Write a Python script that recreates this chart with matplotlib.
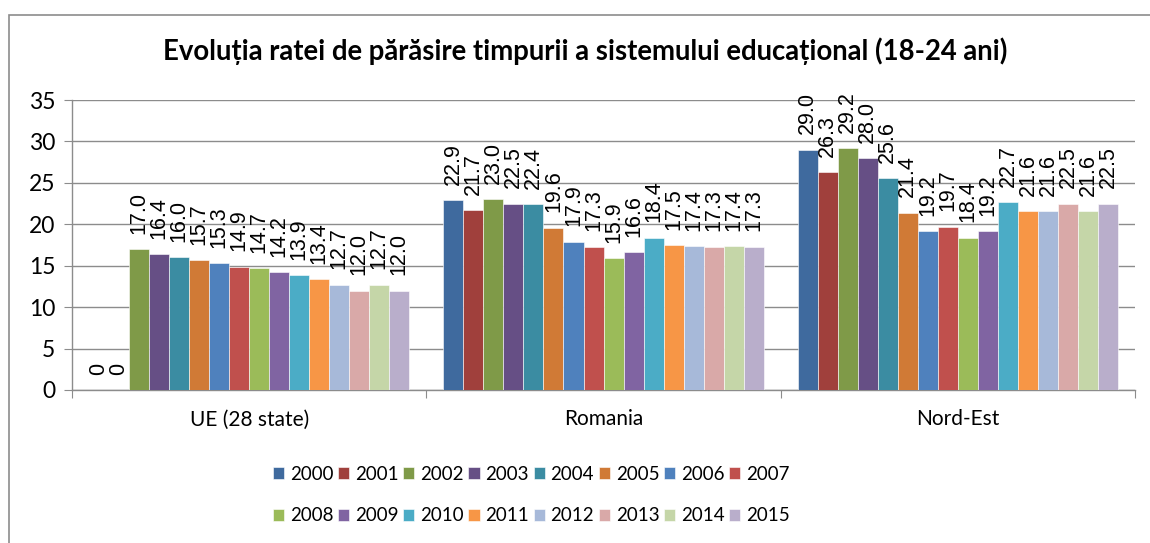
import matplotlib

matplotlib.use("Agg")
import matplotlib.pyplot as plt
import numpy as np
from matplotlib.patches import Rectangle

groups = ["UE (28 state)", "Romania", "Nord-Est"]
years = [str(y) for y in range(2000, 2016)]

ue_values = [0, 0, 17.0, 16.4, 16.0, 15.7, 15.3, 14.9, 14.7, 14.2, 13.9, 13.4, 12.7, 12.0, 12.7, 12.0]
ro_values = [22.9, 21.7, 23.0, 22.5, 22.4, 19.6, 17.9, 17.3, 15.9, 16.6, 18.4, 17.5, 17.4, 17.3, 17.4, 17.3]
ne_values = [29.0, 26.3, 29.2, 28.0, 25.6, 21.4, 19.2, 19.7, 18.4, 19.2, 22.7, 21.6, 21.6, 22.5, 21.6, 22.5]

COLORS = [
    "#3F6A9E", "#A0403C", "#7F9A48", "#664F85", "#3B8CA2", "#D07A36", "#4F81BD", "#C0504D",
    "#9BBB59", "#8064A2", "#4BACC6", "#F79646", "#A7B9D9", "#D9A9A8", "#C5D6A8", "#B9AECB",
]

FONT = "Lato"
LABEL_FONT = "Liberation Sans"

data = np.array([ue_values, ro_values, ne_values])
n_years = len(years)
width = 1.0 / (n_years + 1.7)
x = np.arange(len(groups))

fig = plt.figure(figsize=(11.5, 5.43), dpi=100)
ax = fig.add_axes([0.0626, 0.2818, 0.9244, 0.534])

handles = []
for i, year in enumerate(years):
    pos = x + (i - (n_years - 1) / 2) * width
    vals = data[:, i]
    h = ax.bar(pos, vals, width, color=COLORS[i], edgecolor="white", linewidth=0.4, label=year, zorder=3)
    handles.append(h)
    for xp, v in zip(pos, vals):
        txt = "0" if v == 0 else f"{v:.1f}"
        ax.annotate(txt, (xp, v), xytext=(0, 11), textcoords="offset points", rotation=90,
                    ha="center", va="bottom", fontsize=15.5, family=LABEL_FONT, zorder=4,
                    annotation_clip=False)

ax.set_xlim(-0.5, 2.5)
ax.set_ylim(0, 35)
ax.set_yticks(np.arange(0, 36, 5))
ax.yaxis.grid(True, color="#8c8c8c", linewidth=1.0, zorder=0)
ax.set_axisbelow(True)
ax.set_xticks([-0.5, 0.5, 1.5, 2.5])
ax.set_xticklabels([])
ax.set_xticks(x, minor=True)
ax.set_xticklabels(groups, minor=True, fontsize=15, family=FONT)
ax.tick_params(axis="x", which="major", length=6, color="#8c8c8c", direction="out")
ax.tick_params(axis="x", which="minor", length=0, pad=14)
ax.tick_params(axis="y", length=6, color="#8c8c8c", labelsize=16.5, pad=6)
for lbl in ax.get_yticklabels():
    lbl.set_family(FONT)
for side in ["top", "right"]:
    ax.spines[side].set_visible(False)
for side in ["left", "bottom"]:
    ax.spines[side].set_color("#8c8c8c")
    ax.spines[side].set_linewidth(1.0)

fig.text(0.509, 0.905, "Evoluția ratei de părăsire timpurii a sistemului educațional (18-24 ani)",
         ha="center", va="center", fontsize=19.8, weight="bold", family=FONT)

# legend fills column-first, reorder so rows read 2000..2007 / 2008..2015
order = [j for k in range(8) for j in (k, k + 8)]
fig.legend([handles[j] for j in order], [years[j] for j in order],
           loc="center", bbox_to_anchor=(0.462, 0.088), ncol=8, frameon=False,
           prop={"family": FONT, "size": 13.5}, handlelength=0.6, handleheight=0.6,
           handletextpad=0.3, columnspacing=0.25, labelspacing=1.3)

fig.patches.append(Rectangle((9 / 1150, -0.1), 1.2, 1 - 15 / 543 + 0.1, transform=fig.transFigure,
                             fill=False, edgecolor="#8c8c8c", linewidth=1.2))

fig.savefig("out.png", dpi=100)
plt.close(fig)
